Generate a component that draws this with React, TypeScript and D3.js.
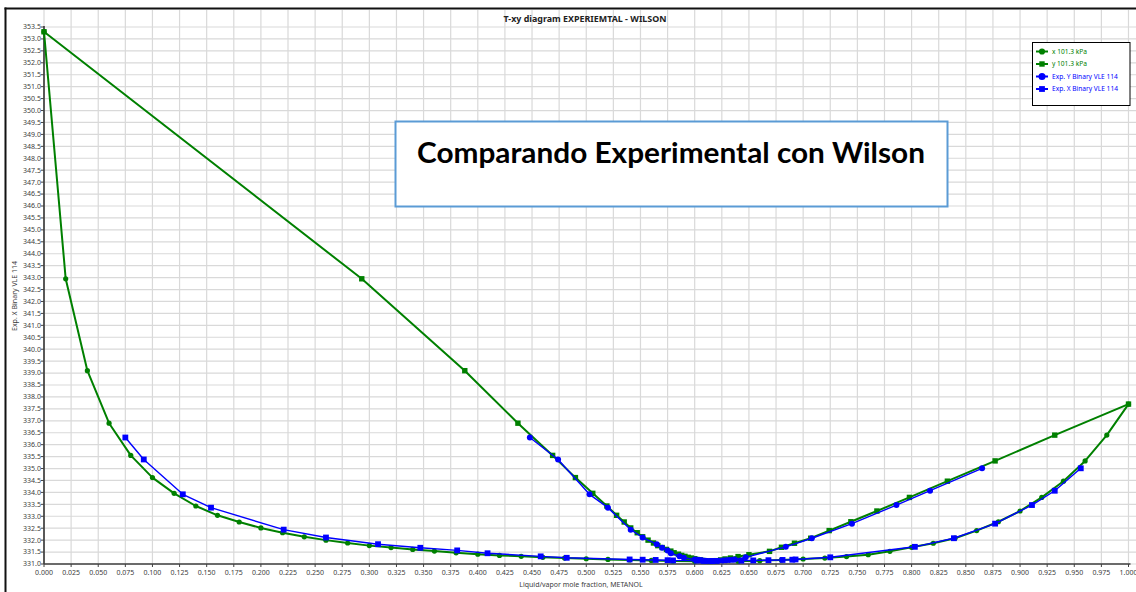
import React from "react";
import * as d3 from "d3";

// Wilson model (Aspen) T-xy at 101.3 kPa
const xLiq = [0.00, 0.02, 0.04, 0.06, 0.08, 0.10, 0.12, 0.14, 0.16, 0.18, 0.20, 0.22, 0.24, 0.26, 0.28, 0.30, 0.32, 0.34, 0.36, 0.38, 0.40, 0.42, 0.44, 0.46, 0.48, 0.50, 0.52, 0.54, 0.56, 0.58, 0.60, 0.62, 0.64, 0.66, 0.68, 0.70, 0.72, 0.74, 0.76, 0.78, 0.80, 0.82, 0.84, 0.86, 0.88, 0.90, 0.92, 0.94, 0.96, 0.98, 1.00];
const tModel = [353.30, 342.95, 339.10, 336.90, 335.55, 334.62, 333.96, 333.43, 333.04, 332.76, 332.51, 332.31, 332.14, 332.00, 331.88, 331.77, 331.69, 331.61, 331.54, 331.47, 331.41, 331.36, 331.32, 331.28, 331.25, 331.22, 331.19, 331.17, 331.15, 331.13, 331.12, 331.11, 331.12, 331.14, 331.17, 331.21, 331.25, 331.31, 331.39, 331.53, 331.70, 331.87, 332.08, 332.40, 332.77, 333.22, 333.79, 334.47, 335.32, 336.40, 337.70];
const yVap = [0.000, 0.293, 0.388, 0.437, 0.469, 0.490, 0.506, 0.519, 0.528, 0.535, 0.541, 0.547, 0.552, 0.557, 0.562, 0.566, 0.570, 0.574, 0.578, 0.581, 0.585, 0.588, 0.591, 0.594, 0.597, 0.600, 0.602, 0.605, 0.607, 0.609, 0.611, 0.614, 0.617, 0.620, 0.624, 0.628, 0.633, 0.640, 0.650, 0.669, 0.680, 0.692, 0.707, 0.724, 0.744, 0.768, 0.798, 0.833, 0.877, 0.932, 1.000];

// Experimental Binary VLE 114
const tExp = [336.30, 335.38, 333.92, 333.36, 332.44, 332.11, 331.83, 331.68, 331.57, 331.45, 331.32, 331.26, 331.19, 331.18, 331.17, 331.16, 331.15, 331.14, 331.13, 331.13, 331.13, 331.14, 331.15, 331.16, 331.17, 331.18, 331.19, 331.28, 331.72, 332.08, 332.69, 333.47, 334.07, 335.01];
const xExp = [0.075, 0.092, 0.128, 0.154, 0.221, 0.260, 0.308, 0.347, 0.381, 0.409, 0.458, 0.482, 0.540, 0.552, 0.564, 0.575, 0.580, 0.602, 0.608, 0.616, 0.620, 0.643, 0.654, 0.668, 0.681, 0.690, 0.693, 0.725, 0.803, 0.839, 0.877, 0.911, 0.932, 0.956];
const yExp = [0.448, 0.474, 0.503, 0.520, 0.541, 0.552, 0.565, 0.570, 0.575, 0.578, 0.586, 0.590, 0.600, 0.602, 0.604, 0.606, 0.607, 0.610, 0.612, 0.615, 0.617, 0.622, 0.626, 0.629, 0.632, 0.635, 0.637, 0.647, 0.684, 0.708, 0.745, 0.786, 0.817, 0.865];

const xTickVals = [0, 0.025, 0.05, 0.075, 0.1, 0.125, 0.15, 0.175, 0.2, 0.225, 0.25, 0.275, 0.3, 0.325, 0.35, 0.375, 0.4, 0.425, 0.45, 0.475, 0.5, 0.525, 0.55, 0.575, 0.6, 0.625, 0.65, 0.675, 0.7, 0.725, 0.75, 0.775, 0.8, 0.825, 0.85, 0.875, 0.9, 0.925, 0.95, 0.975, 1.0];
const legendLabels = ["x  101.3 kPa", "y  101.3 kPa", "Exp. Y Binary VLE 114", "Exp. X Binary VLE 114"];
const title = "T-xy diagram EXPERIEMTAL - WILSON";
const boxText = "Comparando Experimental con Wilson";
const xTitle = "Liquid/vapor mole fraction, METANOL";
const yTitle = "Exp. X Binary VLE 114";

const GREEN = "#008000";
const BLUE = "#0000ff";
const FONT = "'Noto Sans', 'Open Sans', sans-serif";

type Pt = [number, number];

export default function App() {
  const W = 1136, H = 592;
  const x = d3.scaleLinear().domain([0, 1]).range([44, 1128.5]);
  const y = d3.scaleLinear().domain([331, 353.5]).range([564, 27]);
  const yTicks = y.ticks(45);
  const line = d3.line<Pt>().x(d => x(d[0])).y(d => y(d[1]));

  const series = [
    { pts: xLiq.map((v, i) => [v, tModel[i]] as Pt), color: GREEN, shape: "circle", r: 2.6, sq: 0, w: 2 },
    { pts: yVap.map((v, i) => [v, tModel[i]] as Pt), color: GREEN, shape: "square", r: 0, sq: 5.4, w: 2 },
    { pts: yExp.map((v, i) => [v, tExp[i]] as Pt), color: BLUE, shape: "circle", r: 3, sq: 0, w: 1.4 },
    { pts: xExp.map((v, i) => [v, tExp[i]] as Pt), color: BLUE, shape: "square", r: 0, sq: 5.8, w: 1.4 },
  ];

  const marker = (shape: string, cx: number, cy: number, color: string, r: number, sq: number, key: any) =>
    shape === "circle" ? (
      <circle key={key} cx={cx} cy={cy} r={r} fill={color} />
    ) : (
      <rect key={key} x={cx - sq / 2} y={cy - sq / 2} width={sq} height={sq} fill={color} />
    );

  return (
    <svg width={W} height={H} style={{ position: "absolute", left: 0, top: 0, background: "#fff" }} fontFamily={FONT}>
      <rect x={0} y={0} width={W} height={H} fill="#fff" />
      {/* grid */}
      {xTickVals.map((t, i) => (
        <line key={"gx" + i} x1={x(t)} x2={x(t)} y1={10} y2={y(331)} stroke="#d9d9d9" strokeWidth={1.2} />
      ))}
      {yTicks.map((t, i) => (
        <line key={"gy" + i} x1={x(0)} x2={W} y1={y(t)} y2={y(t)} stroke="#d9d9d9" strokeWidth={1.2} />
      ))}
      {/* frame */}
      <line x1={5.5} x2={5.5} y1={7.5} y2={H} stroke="#111" strokeWidth={2} />
      <line x1={4.5} x2={W} y1={8.5} y2={8.5} stroke="#111" strokeWidth={2} />

      {/* axes */}
      <line x1={x(0)} x2={x(0)} y1={y(353.5) - 1} y2={y(331)} stroke="#595959" strokeWidth={2} />
      <line x1={x(0)} x2={x(1) + 2} y1={y(331)} y2={y(331)} stroke="#404040" strokeWidth={1.5} />
      {yTicks.map((t, i) => (
        <g key={"ty" + i}>
          <line x1={x(0) - 3} x2={x(0)} y1={y(t)} y2={y(t)} stroke="#404040" strokeWidth={1} />
          <text x={x(0) - 3} y={y(t) + 2.4} fontSize={7} textAnchor="end" fill="#404040">{t.toFixed(1)}</text>
        </g>
      ))}
      {xTickVals.map((t, i) => (
        <g key={"tx" + i}>
          <line x1={x(t)} x2={x(t)} y1={y(331)} y2={y(331) + 3} stroke="#404040" strokeWidth={1} />
          <text x={x(t)} y={y(331) + 11} fontSize={7} textAnchor="middle" fill="#404040">{t.toFixed(3)}</text>
        </g>
      ))}
      <text x={581} y={587} fontSize={7} textAnchor="middle" fill="#404040">{xTitle}</text>
      <text transform="translate(17,296) rotate(-90)" fontSize={7} textAnchor="middle" fill="#404040">{yTitle}</text>
      <text x={585} y={21.5} fontSize={8.8} fontWeight="bold" textAnchor="middle" fill="#222" textLength={163} lengthAdjust="spacingAndGlyphs">{title}</text>

      {/* series */}
      {series.map((s, si) => (
        <g key={"s" + si}>
          <path d={line(s.pts) || ""} fill="none" stroke={s.color} strokeWidth={s.w} strokeLinejoin="round" />
          {s.pts.map((p, i) => marker(s.shape, x(p[0]), y(p[1]), s.color, s.r, s.sq, i))}
        </g>
      ))}

      {/* annotation box */}
      <rect x={395.5} y={121.5} width={552} height={85} fill="#fff" stroke="#5b9bd5" strokeWidth={2} />
      <text x={671} y={163} fontSize={28} fontWeight="bold" textAnchor="middle" fill="#000" fontFamily="Lato, 'Open Sans', sans-serif" textLength={508} lengthAdjust="spacingAndGlyphs">{boxText}</text>

      {/* legend */}
      <rect x={1032.5} y={42.5} width={97.5} height={63} fill="#fff" stroke="#000" strokeWidth={1} />
      {legendLabels.map((lab, i) => {
        const ly = 51.5 + i * 12.5;
        const s = series[i];
        return (
          <g key={"lg" + i}>
            <line x1={1036} x2={1048} y1={ly} y2={ly} stroke={s.color} strokeWidth={2} />
            {marker(s.shape, 1042, ly, s.color, s.r + 0.5, s.sq, "m")}
            <text x={1052} y={ly + 2.3} fontSize={6.6} fill={s.color}>{lab}</text>
          </g>
        );
      })}
    </svg>
  );
}
